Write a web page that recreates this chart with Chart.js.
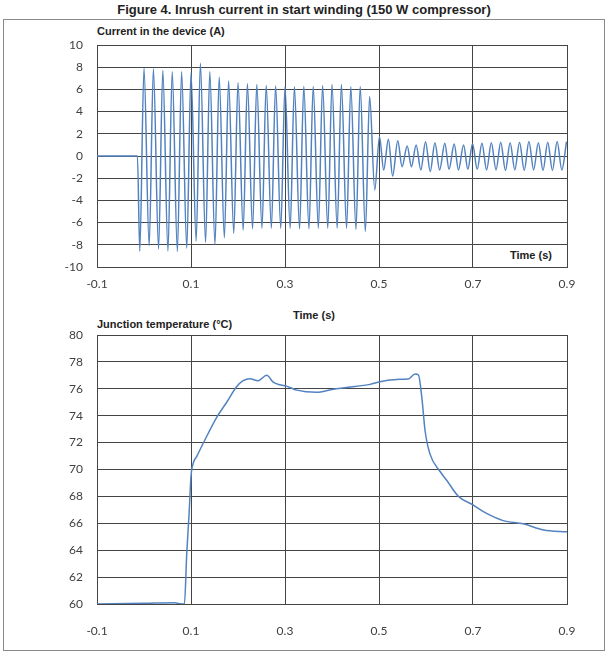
<!DOCTYPE html>
<html>
<head>
<meta charset="utf-8">
<script src="https://cdn.jsdelivr.net/npm/chart.js@4/dist/chart.umd.min.js"></script>
<style>
  html, body { margin: 0; padding: 0; background: #fff; }
  #wrap { position: relative; width: 608px; height: 655px; overflow: hidden; }
  #frame { position: absolute; left: 3px; top: 19px; width: 600px; height: 630px; border: 1px solid #8a8a8a; }
  canvas { position: absolute; left: 0; top: 0; }
  .t { position: absolute; font-family: "Liberation Sans", Arial, sans-serif; font-weight: bold; color: #222; white-space: nowrap; }
</style>
</head>
<body>
<div id="wrap">
  <div id="frame"></div>
  <div class="t" style="left:0; width:608px; text-align:center; top:2px; font-size:13px;">Figure 4. Inrush current in start winding (150 W compressor)</div>
  <div class="t" style="left:97px; top:25px; font-size:11px;">Current in the device (A)</div>
  <div class="t" style="left:510px; top:249px; font-size:11px;">Time (s)</div>
  <div class="t" style="left:293px; top:309px; font-size:11px;">Time (s)</div>
  <div class="t" style="left:97px; top:318px; font-size:11px;">Junction temperature (°C)</div>
  <canvas id="c1" width="608" height="655"></canvas>
  <canvas id="c2" width="608" height="655"></canvas>
</div>
<script>
// ---- Data ----
const timeTicks = [-0.1, 0.1, 0.3, 0.5, 0.7, 0.9];
const currentTicks = [-10, -8, -6, -4, -2, 0, 2, 4, 6, 8, 10];
const tempTicks = [60, 62, 64, 66, 68, 70, 72, 74, 76, 78, 80];

// Current in the device (A): time (s) and value (A)
const currentTime = [
  -0.1, -0.014, -0.009, 0.000, 0.011, 0.020, 0.031, 0.040, 0.051, 0.060,
  0.071, 0.080, 0.091, 0.100, 0.111, 0.120, 0.131, 0.140, 0.151, 0.160,
  0.171, 0.180, 0.191, 0.200, 0.211, 0.220, 0.231, 0.240, 0.251, 0.260,
  0.271, 0.280, 0.291, 0.300, 0.311, 0.320, 0.331, 0.340, 0.351, 0.360,
  0.371, 0.380, 0.391, 0.400, 0.411, 0.420, 0.431, 0.440, 0.451, 0.460,
  0.471, 0.480, 0.491, 0.501, 0.510, 0.520, 0.529, 0.540, 0.549, 0.560,
  0.569, 0.579, 0.589, 0.599, 0.609, 0.619, 0.629, 0.640, 0.649, 0.660,
  0.669, 0.680, 0.689, 0.699, 0.709, 0.719, 0.729, 0.739, 0.749, 0.759,
  0.769, 0.779, 0.789, 0.799, 0.809, 0.819, 0.829, 0.839, 0.849, 0.859,
  0.869, 0.879, 0.889, 0.899
];
const currentValue = [
  0, 0, -8.56, 7.9, -8.08, 7.85, -8.38, 7.7, -8.56, 7.6,
  -8.6, 7.6, -8.3, 7.5, -7.66, 8.35, -7.78, 7.6, -7.96, 7.1,
  -7.36, 6.75, -6.96, 6.6, -6.67, 6.5, -6.55, 6.45, -6.5, 6.35,
  -6.5, 6.3, -6.5, 6.25, -6.5, 6.25, -6.55, 6.25, -6.55, 6.25,
  -6.5, 6.35, -6.5, 6.45, -6.5, 6.45, -6.5, 6.25, -6.6, 6.25,
  -6.8, 5.35, -3.06, 1.74, -1.26, 1.5, -1.8, 1.38, -0.96, 0.9,
  -0.96, 1.0, -1.26, 1.29, -1.41, 1.2, -1.26, 1.14, -1.2, 1.08,
  -1.26, 1.0, -1.2, 1.1, -1.2, 1.15, -1.25, 1.2, -1.25, 1.25,
  -1.3, 1.2, -1.25, 1.25, -1.3, 1.3, -1.25, 1.2, -1.3, 1.25,
  -1.3, 1.3, -1.25, 1.3
];

// Junction temperature (°C): time (s) and value (°C)
const tempTime = [
  -0.1, 0.0, 0.066, 0.075, 0.086, 0.091, 0.096, 0.100, 0.105, 0.112,
  0.126, 0.155, 0.176, 0.197, 0.211, 0.225, 0.243, 0.261, 0.275, 0.289,
  0.303, 0.325, 0.367, 0.400, 0.431, 0.481, 0.502, 0.538, 0.562, 0.577,
  0.584, 0.591, 0.598, 0.608, 0.630, 0.644, 0.669, 0.700, 0.728, 0.764,
  0.807, 0.850, 0.900
];
const tempValue = [
  60.0, 60.05, 60.1, 60.02, 60.0, 63.8, 66.75, 69.5, 70.5, 70.96,
  71.95, 73.9, 75.0, 76.15, 76.6, 76.75, 76.6, 77.0, 76.5, 76.3,
  76.2, 75.9, 75.74, 75.95, 76.1, 76.33, 76.53, 76.7, 76.72, 77.1,
  77.02, 75.4, 72.9, 71.2, 69.85, 69.2, 68.0, 67.37, 66.75, 66.2,
  65.96, 65.5, 65.37
];

// ---- Chart building ----
const LINE = '#5283c0';
const GRID = '#454545';
const TICKFONT = { family: 'Lato, "Open Sans", sans-serif', size: 12 };

function pts(xs, ys) { return xs.map((x, i) => ({ x: x, y: ys[i] })); }

function makeChart(id, xs, ys, yTicks, plotTop, plotBottom, xAxisH, xPad) {
  const H = 655;
  return new Chart(document.getElementById(id), {
    type: 'line',
    data: { datasets: [{
      data: pts(xs, ys),
      borderColor: LINE, borderWidth: 1.5, pointRadius: 0,
      cubicInterpolationMode: 'monotone', fill: false
    }]},
    options: {
      responsive: false, animation: false, events: [],
      layout: { padding: { left: 0, right: 41, top: plotTop, bottom: H - plotBottom - xAxisH } },
      plugins: { legend: { display: false }, tooltip: { enabled: false }, title: { display: false } },
      scales: {
        x: {
          type: 'linear', min: timeTicks[0], max: timeTicks[timeTicks.length - 1],
          afterBuildTicks: s => { s.ticks = timeTicks.map(v => ({ value: v })); },
          afterFit: s => { s.height = xAxisH; },
          ticks: { color: '#404040', font: TICKFONT, padding: xPad, maxRotation: 0,
                   callback: v => v.toFixed(1) },
          grid: { color: GRID, lineWidth: 1, drawTicks: false },
          border: { color: GRID, width: 1 }
        },
        y: {
          type: 'linear', min: yTicks[0], max: yTicks[yTicks.length - 1],
          afterBuildTicks: s => { s.ticks = yTicks.map(v => ({ value: v })); },
          afterFit: s => { s.width = 97; },
          ticks: { color: '#404040', font: TICKFONT, padding: 14 },
          grid: { color: GRID, lineWidth: 1, drawTicks: false },
          border: { color: GRID, width: 1 }
        }
      }
    }
  });
}

makeChart('c1', currentTime, currentValue, currentTicks, 45, 267, 30, 10);
makeChart('c2', tempTime, tempValue, tempTicks, 335, 604, 40, 20);
</script>
</body>
</html>
